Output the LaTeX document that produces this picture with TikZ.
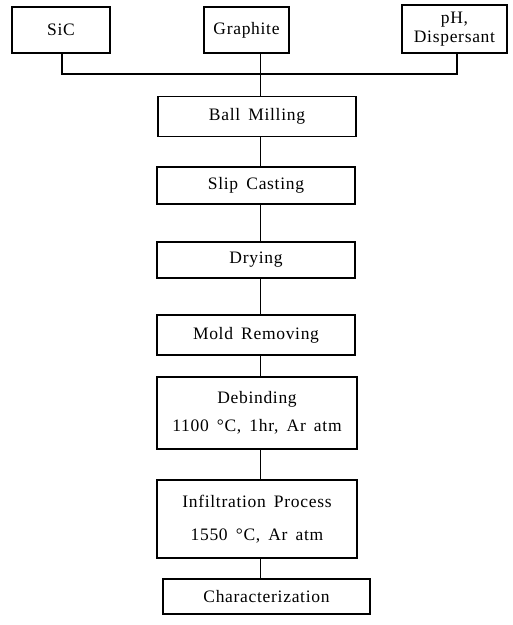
\documentclass[tikz,border=0pt]{standalone}
\usepackage{fontspec}
\setmainfont{Liberation Serif}[LetterSpace=4.0,WordSpace=1.6]
\begin{document}
\begin{tikzpicture}[x=1pt,y=-1pt,
  box/.style={draw,line width=1.1pt,rectangle,inner sep=0pt,align=center,font=\fontsize{17.5}{20}\selectfont},
  conn/.style={line width=1.1pt}]
\useasboundingbox (0,0) rectangle (513,625);
\node[box,minimum width=98,minimum height=46] (sic) at (61,30) {SiC};
\node[box,minimum width=85,minimum height=46] (gr) at (246.5,30) {Graphite};
\node[box,minimum width=105,minimum height=48,font=\fontsize{17.5}{18.5}\selectfont] (ph) at (454.5,29) {pH,\\Dispersant};
\node[box,minimum width=198,minimum height=40] (bm) at (257,116.5) {Ball Milling};
\node[box,minimum width=198,minimum height=37] (sc) at (256,185.5) {Slip Casting};
\node[box,minimum width=198,minimum height=36] (dr) at (256,260) {Drying};
\node[box,minimum width=198,minimum height=40] (mr) at (256,335) {Mold Removing};
\node[box,minimum width=200,minimum height=72,font=\fontsize{17.5}{28}\selectfont] (db) at (257,413) {Debinding\\1100 °C, 1hr, Ar atm};
\node[box,minimum width=200,minimum height=78,font=\fontsize{17.5}{33}\selectfont] (inf) at (257,519) {Infiltration Process\\1550 °C, Ar atm};
\node[box,minimum width=207,minimum height=35] (ch) at (266.5,596.5) {Characterization};
\coordinate (j) at (260.5,74);
\draw[conn] ([xshift=1]sic.south) |- (j);
\draw[conn] ([xshift=2.5]ph.south) |- (j);
\draw[conn] ([xshift=14]gr.south) -- (j) -- (bm.north -| j);
\draw[conn] (bm.south -| j) -- (sc.north -| j);
\draw[conn] (sc.south -| j) -- (dr.north -| j);
\draw[conn] (dr.south -| j) -- (mr.north -| j);
\draw[conn] (mr.south -| j) -- (db.north -| j);
\draw[conn] (db.south -| j) -- (inf.north -| j);
\draw[conn] (inf.south -| j) -- (ch.north -| j);
\end{tikzpicture}
\end{document}
